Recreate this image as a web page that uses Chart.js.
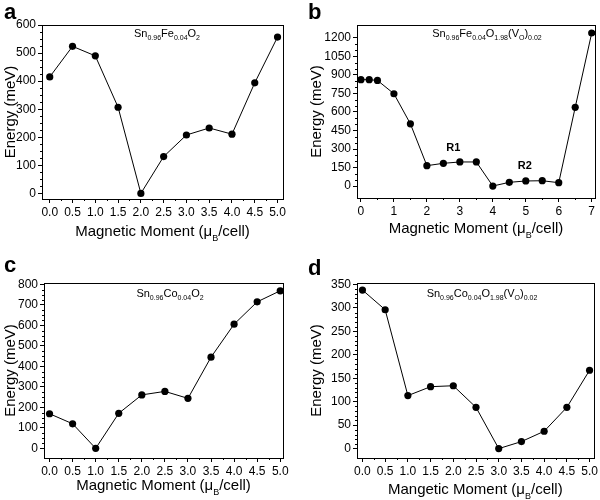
<!DOCTYPE html>
<html lang="en">
<head>
  <meta charset="UTF-8" />
  <title>Energy vs Magnetic Moment</title>
  <script src="https://cdn.jsdelivr.net/npm/chart.js"></script>
  <style>
    * { margin: 0; padding: 0; box-sizing: border-box; }
    body { width: 600px; height: 500px; background: #fff; position: relative; overflow: hidden; }
    canvas { position: absolute; }
    #panelA { left: 0; top: 0; }
    #panelB { left: 300px; top: 0; }
    #panelC { left: 0; top: 250px; }
    #panelD { left: 300px; top: 250px; }
  </style>
</head>
<body>
  <canvas id="panelA" width="300" height="250"></canvas>
  <canvas id="panelB" width="300" height="250"></canvas>
  <canvas id="panelC" width="300" height="250"></canvas>
  <canvas id="panelD" width="300" height="250"></canvas>

  <script>
    // data
    const momentHalfSteps = [0.0, 0.5, 1.0, 1.5, 2.0, 2.5, 3.0, 3.5, 4.0, 4.5, 5.0];
    const energyFeO2 = [415, 524, 490, 307, 0, 131, 208, 233, 211, 394, 557];

    const momentFeVo = [0, 0.25, 0.5, 1, 1.5, 2, 2.5, 3, 3.5, 4, 4.5, 5, 5.5, 6, 6.5, 7];
    const energyFeVo = [862, 862, 856, 748, 504, 165, 184, 195, 195, 0, 30, 41, 43, 27, 638, 1240];

    const energyCoO2 = [169, 120, 0, 171, 261, 278, 244, 445, 606, 715, 769];
    const energyCoVo = [338, 296, 113, 132, 134, 88, 0, 15, 37, 88, 167];

    const xTicksHalf = [0, 0.5, 1, 1.5, 2, 2.5, 3, 3.5, 4, 4.5, 5];
    const xTicksInt = [0, 1, 2, 3, 4, 5, 6, 7];
    const yTicksA = [0, 100, 200, 300, 400, 500, 600];
    const yTicksB = [0, 150, 300, 450, 600, 750, 900, 1050, 1200];
    const yTicksC = [0, 100, 200, 300, 400, 500, 600, 700, 800];
    const yTicksD = [0, 50, 100, 150, 200, 250, 300, 350];

    const FONT = "'Liberation Sans', Arial, sans-serif";

    // draw text made of [text, isSub] parts, centred on x
    function drawRich(ctx, parts, x, y, size) {
      const subSize = Math.round(size * 0.62);
      let total = 0;
      parts.forEach(p => {
        ctx.font = (p[1] ? subSize : size) + 'px ' + FONT;
        total += ctx.measureText(p[0]).width;
      });
      let cx = x - total / 2;
      ctx.textAlign = 'left';
      ctx.textBaseline = 'alphabetic';
      parts.forEach(p => {
        ctx.font = (p[1] ? subSize : size) + 'px ' + FONT;
        ctx.fillText(p[0], cx, p[1] ? y + size * 0.3 : y);
        cx += ctx.measureText(p[0]).width;
      });
    }

    function makePanel(id, cfg) {
      const decor = {
        id: 'decor',
        afterDraw(chart) {
          const ctx = chart.ctx;
          const a = chart.chartArea;
          const xs = chart.scales.x, ys = chart.scales.y;
          ctx.save();
          ctx.strokeStyle = '#000';
          ctx.lineWidth = 1;
          ctx.strokeRect(Math.round(a.left) + 0.5, Math.round(a.top) + 0.5,
                         Math.round(a.right - a.left), Math.round(a.bottom - a.top));

          // minor ticks
          ctx.beginPath();
          cfg.xMinor.forEach(v => {
            const px = Math.round(xs.getPixelForValue(v)) + 0.5;
            ctx.moveTo(px, a.bottom); ctx.lineTo(px, a.bottom + 2);
          });
          cfg.yMinor.forEach(v => {
            const py = Math.round(ys.getPixelForValue(v)) + 0.5;
            ctx.moveTo(a.left, py); ctx.lineTo(a.left - 2, py);
          });
          ctx.stroke();

          ctx.fillStyle = '#000';
          // panel letter
          ctx.font = 'bold 22px ' + FONT;
          ctx.textAlign = 'left';
          ctx.textBaseline = 'alphabetic';
          ctx.fillText(cfg.letter, cfg.letterPos[0], cfg.letterPos[1]);

          // compound formula
          drawRich(ctx, cfg.formula, cfg.formulaPos[0], cfg.formulaPos[1], 11);

          // axis titles
          drawRich(ctx, [[cfg.xTitle, false], ['B', true], ['/cell)', false]],
                   (a.left + a.right) / 2, cfg.xTitleY, 15);
          ctx.save();
          ctx.translate(cfg.yTitleX, (a.top + a.bottom) / 2);
          ctx.rotate(-Math.PI / 2);
          ctx.font = '15px ' + FONT;
          ctx.textAlign = 'center';
          ctx.textBaseline = 'middle';
          ctx.fillText('Energy (meV)', 0, 0);
          ctx.restore();

          // region labels
          (cfg.notes || []).forEach(n => {
            ctx.font = 'bold 11px ' + FONT;
            ctx.textAlign = 'center';
            ctx.textBaseline = 'middle';
            ctx.fillText(n.text, xs.getPixelForValue(n.x), ys.getPixelForValue(n.y));
          });
          ctx.restore();
        }
      };

      const axisCommon = {
        type: 'linear',
        grid: { drawOnChartArea: false, drawTicks: true, tickLength: 4, color: '#000' },
        border: { display: true, color: '#000' },
      };

      new Chart(document.getElementById(id), {
        type: 'line',
        data: {
          datasets: [{
            data: cfg.xs.map((x, i) => ({ x: x, y: cfg.ys[i] })),
            borderColor: '#000',
            backgroundColor: '#000',
            borderWidth: 1,
            pointRadius: 3.6,
            pointBackgroundColor: '#000',
            pointBorderWidth: 0,
            tension: 0
          }]
        },
        options: {
          responsive: false,
          animation: false,
          layout: { padding: { top: cfg.top, right: cfg.right, left: 0, bottom: 0 } },
          plugins: { legend: { display: false }, tooltip: { enabled: false } },
          scales: {
            x: Object.assign({}, axisCommon, {
              min: cfg.xMin, max: cfg.xMax,
              ticks: {
                color: '#000', font: { size: 12, family: FONT }, padding: 2,
                autoSkip: false, maxRotation: 0,
                callback: v => cfg.xFixed ? v.toFixed(1) : String(v)
              },
              afterBuildTicks: s => { s.ticks = cfg.xTicks.map(v => ({ value: v })); },
              afterFit: s => { s.height = cfg.xHeight; }
            }),
            y: Object.assign({}, axisCommon, {
              min: cfg.yMin, max: cfg.yMax,
              ticks: {
                color: '#000', font: { size: 12, family: FONT }, padding: 2,
                callback: v => String(v)
              },
              afterBuildTicks: s => { s.ticks = cfg.yTicks.map(v => ({ value: v })); },
              afterFit: s => { s.width = cfg.yWidth; }
            })
          }
        },
        plugins: [decor]
      });
    }

    function minorBetween(ticks, parts) {
      const out = [];
      for (let i = 0; i < ticks.length - 1; i++) {
        const step = (ticks[i + 1] - ticks[i]) / parts;
        for (let k = 1; k < parts; k++) out.push(ticks[i] + k * step);
      }
      return out;
    }

    makePanel('panelA', {
      xs: momentHalfSteps, ys: energyFeO2,
      xMin: -0.17, xMax: 5.12, yMin: -20, yMax: 600,
      xTicks: xTicksHalf, yTicks: yTicksA, xFixed: true,
      xMinor: minorBetween(xTicksHalf, 2), yMinor: minorBetween(yTicksA, 4),
      top: 25, right: 17, yWidth: 42, xHeight: 51,
      letter: 'a', letterPos: [4, 19],
      formula: [['Sn', false], ['0.96', true], ['Fe', false], ['0.04', true], ['O', false], ['2', true]],
      formulaPos: [167, 37],
      xTitle: 'Magnetic Moment (\u03bc', xTitleY: 236, yTitleX: 11
    });

    makePanel('panelB', {
      xs: momentFeVo, ys: energyFeVo,
      xMin: -0.12, xMax: 7.1, yMin: -97, yMax: 1305,
      xTicks: xTicksInt, yTicks: yTicksB, xFixed: false,
      xMinor: minorBetween(xTicksInt, 2), yMinor: minorBetween(yTicksB, 3),
      top: 25, right: 5, yWidth: 57, xHeight: 52,
      letter: 'b', letterPos: [8, 19],
      formula: [['Sn', false], ['0.96', true], ['Fe', false], ['0.04', true], ['O', false], ['1.98', true],
                ['(V', false], ['O', true], [')', false], ['0.02', true]],
      formulaPos: [187, 37],
      xTitle: 'Magnetic Moment (\u03bc', xTitleY: 233, yTitleX: 17,
      notes: [{ text: 'R1', x: 2.8, y: 310 }, { text: 'R2', x: 4.97, y: 162 }]
    });

    makePanel('panelC', {
      xs: momentHalfSteps, ys: energyCoO2,
      xMin: -0.12, xMax: 5.06, yMin: -47, yMax: 807,
      xTicks: xTicksHalf, yTicks: yTicksC, xFixed: true,
      xMinor: minorBetween(xTicksHalf, 2), yMinor: minorBetween(yTicksC, 4),
      top: 33, right: 17, yWidth: 44, xHeight: 42,
      letter: 'c', letterPos: [4, 22],
      formula: [['Sn', false], ['0.96', true], ['Co', false], ['0.04', true], ['O', false], ['2', true]],
      formulaPos: [170, 47],
      xTitle: 'Magnetic Moment (\u03bc', xTitleY: 240, yTitleX: 11
    });

    makePanel('panelD', {
      xs: momentHalfSteps, ys: energyCoVo,
      xMin: -0.12, xMax: 5.09, yMin: -20, yMax: 353,
      xTicks: xTicksHalf, yTicks: yTicksD, xFixed: true,
      xMinor: minorBetween(xTicksHalf, 2), yMinor: minorBetween(yTicksD, 5),
      top: 33, right: 5, yWidth: 57, xHeight: 42,
      letter: 'd', letterPos: [8, 25],
      formula: [['Sn', false], ['0.96', true], ['Co', false], ['0.04', true], ['O', false], ['1.98', true],
                ['(V', false], ['O', true], [')', false], ['0.02', true]],
      formulaPos: [182, 47],
      xTitle: 'Mangetic Moment (\u03bc', xTitleY: 244, yTitleX: 17
    });
  </script>
</body>
</html>
